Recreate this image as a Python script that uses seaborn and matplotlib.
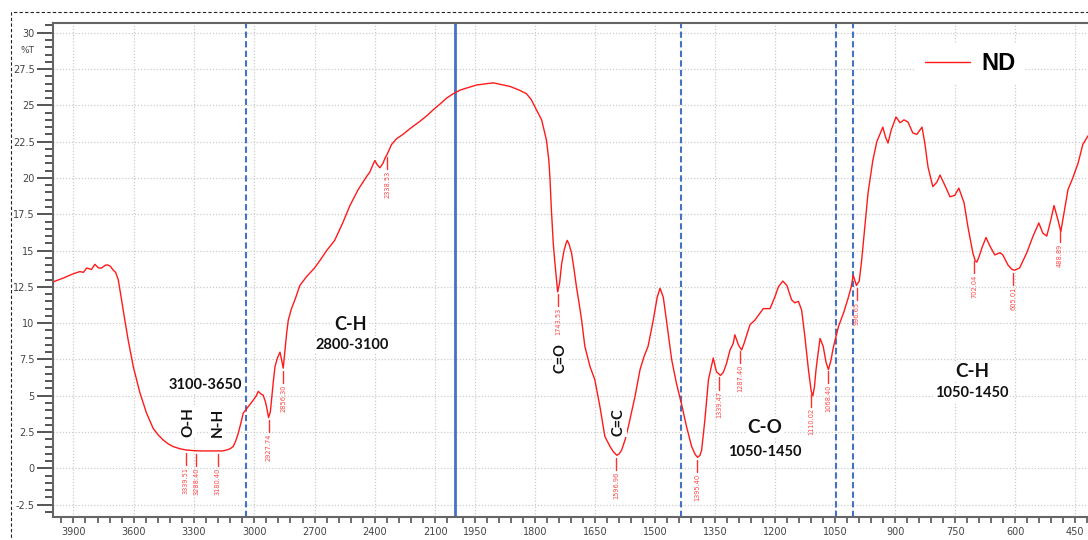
import numpy as np
import pandas as pd
import matplotlib
matplotlib.use("Agg")
import matplotlib.pyplot as plt
from matplotlib.patches import Rectangle
import seaborn as sns

# ---------------- data ----------------
wavenumber = [
    4000, 3951, 3901, 3868, 3850, 3834, 3810, 3793, 3775, 3760, 3740, 3727, 3715, 3702, 3690,
    3677, 3665, 3660, 3644, 3627, 3602, 3569, 3536, 3503, 3478, 3453, 3430, 3404, 3370, 3337,
    3300, 3271, 3230, 3188, 3160, 3138, 3120, 3105, 3092, 3080, 3067, 3055, 3030, 3005, 2990,
    2980, 2965, 2956, 2945, 2939, 2929, 2920, 2914, 2905, 2897, 2885, 2872, 2863, 2856, 2848,
    2839, 2831, 2815, 2798, 2773, 2740, 2700, 2674, 2640, 2600, 2560, 2524, 2483, 2441, 2425,
    2410, 2400, 2388, 2375, 2360, 2350, 2338, 2317, 2292, 2260, 2225, 2176, 2140, 2109, 2075,
    2043, 2010, 1988, 1947, 1905, 1863, 1840, 1822, 1810, 1801, 1784, 1772, 1766, 1763, 1760,
    1755, 1751, 1744, 1739, 1734, 1728, 1723, 1720, 1715, 1709, 1703, 1697, 1690, 1684, 1676,
    1663, 1651, 1638, 1626, 1613, 1605, 1596, 1590, 1584, 1575, 1567, 1551, 1538, 1528, 1518,
    1505, 1495, 1488, 1480, 1472, 1459, 1447, 1434, 1422, 1409, 1400, 1394, 1388, 1384, 1376,
    1367, 1359, 1355, 1347, 1337, 1330, 1322, 1313, 1305, 1301, 1292, 1284, 1278, 1271, 1263,
    1251, 1238, 1230, 1213, 1201, 1192, 1181, 1171, 1159, 1151, 1142, 1134, 1126, 1117, 1110,
    1106, 1102, 1098, 1088, 1080, 1073, 1067, 1061, 1055, 1042, 1028, 1018, 1010, 1005, 997,
    990, 984, 976, 968, 956, 946, 931, 924, 918, 910, 898, 888, 878, 868, 856,
    846, 833, 826, 818, 806, 796, 788, 776, 763, 751, 741, 728, 718, 706, 700,
    696, 690, 683, 673, 663, 651, 638, 631, 618, 608, 601, 589, 571, 556, 541,
    531, 521, 511, 503, 493, 486, 478, 468, 456, 443, 431, 418,
]
transmittance = [
    12.85, 13.1, 13.4, 13.55, 13.5, 13.8, 13.7, 14.05, 13.8, 13.8, 14.0, 14.0, 13.9, 13.65, 13.5,
    13.0, 12.0, 11.6, 10.2, 8.8, 7.0, 5.2, 3.8, 2.75, 2.3, 1.95, 1.7, 1.5, 1.35, 1.26,
    1.22, 1.2, 1.2, 1.2, 1.2, 1.26, 1.35, 1.5, 1.9, 2.4, 3.1, 3.8, 4.25, 4.7, 5.0,
    5.3, 5.1, 5.05, 4.6, 4.25, 3.5, 3.9, 4.7, 6.0, 7.0, 7.6, 8.0, 7.4, 6.9, 8.0,
    9.3, 10.2, 11.0, 11.6, 12.6, 13.2, 13.8, 14.3, 15.0, 15.7, 16.9, 18.1, 19.2, 20.1, 20.4,
    20.9, 21.2, 20.9, 20.7, 21.0, 21.35, 21.65, 22.3, 22.7, 23.0, 23.4, 23.9, 24.3, 24.7, 25.1,
    25.5, 25.8, 26.05, 26.4, 26.55, 26.3, 26.05, 25.8, 25.4, 24.9, 24.0, 22.6, 21.2, 19.85, 18.0,
    15.5, 14.2, 12.15, 12.8, 14.1, 15.0, 15.5, 15.7, 15.4, 14.8, 13.7, 12.5, 11.3, 10.2, 8.4,
    7.0, 6.1, 4.2, 2.2, 1.5, 1.15, 0.9, 1.0, 1.26, 2.0, 2.9, 4.9, 6.8, 7.7, 8.4,
    10.2, 11.8, 12.4, 11.8, 10.2, 7.5, 5.85, 4.4, 2.9, 1.5, 0.95, 0.76, 0.9, 1.26, 3.3,
    6.1, 7.1, 7.6, 6.65, 6.4, 6.6, 7.2, 8.15, 8.6, 9.2, 8.5, 8.15, 8.6, 9.2, 9.9,
    10.2, 10.7, 11.0, 11.0, 11.8, 12.5, 12.9, 12.6, 11.6, 11.4, 11.5, 10.9, 9.1, 6.8, 5.3,
    5.0, 5.6, 6.8, 8.95, 8.4, 7.3, 6.8, 7.4, 8.3, 9.75, 10.8, 11.7, 12.5, 13.3, 12.6,
    12.9, 14.3, 16.6, 18.96, 21.2, 22.5, 23.5, 22.8, 22.4, 23.3, 24.2, 23.8, 24.0, 23.85, 23.1,
    23.0, 23.5, 22.4, 20.75, 19.4, 19.7, 20.2, 19.5, 18.7, 18.8, 19.3, 18.3, 16.6, 14.85, 14.3,
    14.2, 14.6, 15.2, 15.9, 15.3, 14.7, 14.85, 14.7, 14.0, 13.7, 13.65, 13.8, 14.85, 15.95, 16.9,
    16.2, 16.0, 17.1, 18.1, 17.1, 16.3, 17.6, 19.2, 20.0, 21.0, 22.3, 22.9,
]

peak_positions = [3339.51, 3288.40, 3180.40, 2927.74, 2856.30, 2338.53, 1743.53, 1596.96,
                  1395.40, 1339.47, 1287.40, 1110.02, 1068.40, 996.65, 702.04, 605.01, 488.89]
peak_labels = ["3339.51", "3288.40", "3180.40", "2927.74", "2856.30", "2338.53", "1743.53",
               "1596.96", "1395.40", "1339.47", "1287.40", "1110.02", "1068.40", "996.65",
               "702.04", "605.01", "488.89"]

dashed_lines = [3040, 1435, 1047, 1005]
solid_lines = [2000]

x_major_ticks = [3900, 3600, 3300, 3000, 2700, 2400, 2100, 1950, 1800, 1650, 1500, 1350,
                 1200, 1050, 900, 750, 600, 450]
x_tick_labels = ["3900", "3600", "3300", "3000", "2700", "2400", "2100", "1950", "1800",
                 "1650", "1500", "1350", "1200", "1050", "900", "750", "600", "450"]
y_major_ticks = [-2.5, 0, 2.5, 5, 7.5, 10, 12.5, 15, 17.5, 20, 22.5, 25, 27.5, 30]
y_tick_labels = ["-2.5", "0", "2.5", "5", "7.5", "10", "12.5", "15", "17.5", "20",
                 "22.5", "25", "27.5", "30"]

# (text, wavenumber, %T, rotation, fontsize)
band_labels = [
    ("3100-3650", 3246, 5.73, 0, 10.5),
    ("O-H", 3330, 3.2, 90, 11),
    ("N-H", 3181, 3.2, 90, 11),
    ("C-H", 2523, 9.94, 0, 13),
    ("2800-3100", 2513, 8.5, 0, 10.5),
    ("C=O", 1738, 7.57, 90, 10.5),
    ("C=C", 1593, 3.2, 90, 10.5),
    ("C-O", 1226, 2.84, 0, 13.5),
    ("1050-1450", 1226, 1.13, 0, 10.5),
    ("C-H", 708, 6.64, 0, 13.5),
    ("1050-1450", 708, 5.18, 0, 10.5),
]

# ---------------- figure ----------------
sns.set_theme(style="white")
plt.rcParams["font.family"] = ["DejaVu Sans"]

W, H = 1088, 540
fig = plt.figure(figsize=(W / 100, H / 100), dpi=100)
left_px, top_px, bottom_px = 53.3, 23.3, 516.7
ax = fig.add_axes([left_px / W, 1 - bottom_px / H, 1 - left_px / W, (bottom_px - top_px) / H])

K_HI, K_LO = 0.201, 0.4


def fwd(w):
    w = np.asarray(w, dtype=float)
    return np.where(w >= 2000, (w - 2000) * K_HI, (w - 2000) * K_LO)


def inv(p):
    p = np.asarray(p, dtype=float)
    return np.where(p >= 0, p / K_HI + 2000, p / K_LO + 2000)


df = pd.DataFrame({"wavenumber": wavenumber, "T": transmittance})

ax.set_xscale("function", functions=(fwd, inv))
ax.set_xlim(4000, 418)
ax.set_ylim(-3.33, 30.65)

ax.set_xticks(x_major_ticks)
ax.set_xticklabels(x_tick_labels)
minor_x = [w for w in range(3960, 2000, -60) if w not in x_major_ticks] + \
          [w for w in range(1980, 419, -30) if w not in x_major_ticks]
ax.set_xticks(minor_x, minor=True)
ax.set_yticks(y_major_ticks)
ax.set_yticklabels(y_tick_labels)
ax.set_yticks(np.arange(-3.0, 30.6, 0.5), minor=True)

ax.grid(True, which="major", color="#cccccc", linestyle=(0, (1, 1.5)), linewidth=0.9)
ax.set_axisbelow(True)

for xv in dashed_lines:
    ax.axvline(xv, color="#4472C4", linestyle=(0, (3.0, 1.6)), linewidth=1.5, zorder=2)
for xv in solid_lines:
    ax.axvline(xv, color="#4472C4", linestyle="-", linewidth=2.0, zorder=2)

sns.lineplot(data=df, x="wavenumber", y="T", ax=ax, color="#ff1a1a", linewidth=1.0,
             estimator=None, sort=True, label="ND", zorder=4)

# peak markers
wn_sorted = np.array(wavenumber[::-1], dtype=float)
t_sorted = np.array(transmittance[::-1], dtype=float)
for pos, lab in zip(peak_positions, peak_labels):
    v = float(np.interp(pos, wn_sorted, t_sorted))
    ax.plot([pos, pos], [v - 0.2, v - 1.05], color="#ff3030", linewidth=1.0, zorder=4)
    ax.text(pos, v - 1.15, lab, rotation=90, ha="center", va="top", fontsize=4.8,
            color="#ff4a4a", zorder=4)

for txt, xw, yv, rot, fs in band_labels:
    ax.text(xw, yv, txt, rotation=rot, ha="center", va="center", fontsize=fs,
            fontweight="bold", color="#111111", family=["Lato", "DejaVu Sans"], zorder=5,
            bbox=dict(facecolor="white", edgecolor="none", pad=1.0))

# legend
leg = ax.legend(loc="center left", bbox_to_anchor=(0.822, 0.918), frameon=True,
                facecolor="white", edgecolor="none", framealpha=1, handlelength=1.9,
                handletextpad=0.5, borderpad=0.4, labelcolor="black",
                prop={"family": "Liberation Sans", "weight": "bold", "size": 17})
for line in leg.get_lines():
    line.set_linewidth(1.0)

ax.set_xlabel("")
ax.set_ylabel("")
ax.text(-0.025, 0.944, "%T", transform=ax.transAxes, fontsize=6.5, color="#444444",
        ha="center", va="center")

# ticks & spines
ax.tick_params(axis="y", which="major", direction="out", length=11.5, width=1.4,
               color="#555555", labelsize=7, labelcolor="#444444", pad=2, left=True)
ax.tick_params(axis="y", which="minor", direction="out", length=6, width=1.4,
               color="#555555", left=True)
ax.tick_params(axis="x", which="both", direction="out", length=4.3, width=1.2,
               color="#555555", labelsize=7, labelcolor="#444444", pad=3, bottom=True)
for side in ["left", "bottom", "top"]:
    ax.spines[side].set_color("#666666")
    ax.spines[side].set_linewidth(1.5)
ax.spines["right"].set_visible(False)

# dashed outer border
fig.patches.append(Rectangle((10.5 / W, -0.2), 1.3, 1 - 12 / H + 0.2, transform=fig.transFigure,
                             fill=False, edgecolor="#222222", linestyle=(0, (3, 2)),
                             linewidth=0.8, clip_on=False))

fig.savefig("out.png", dpi=100)
